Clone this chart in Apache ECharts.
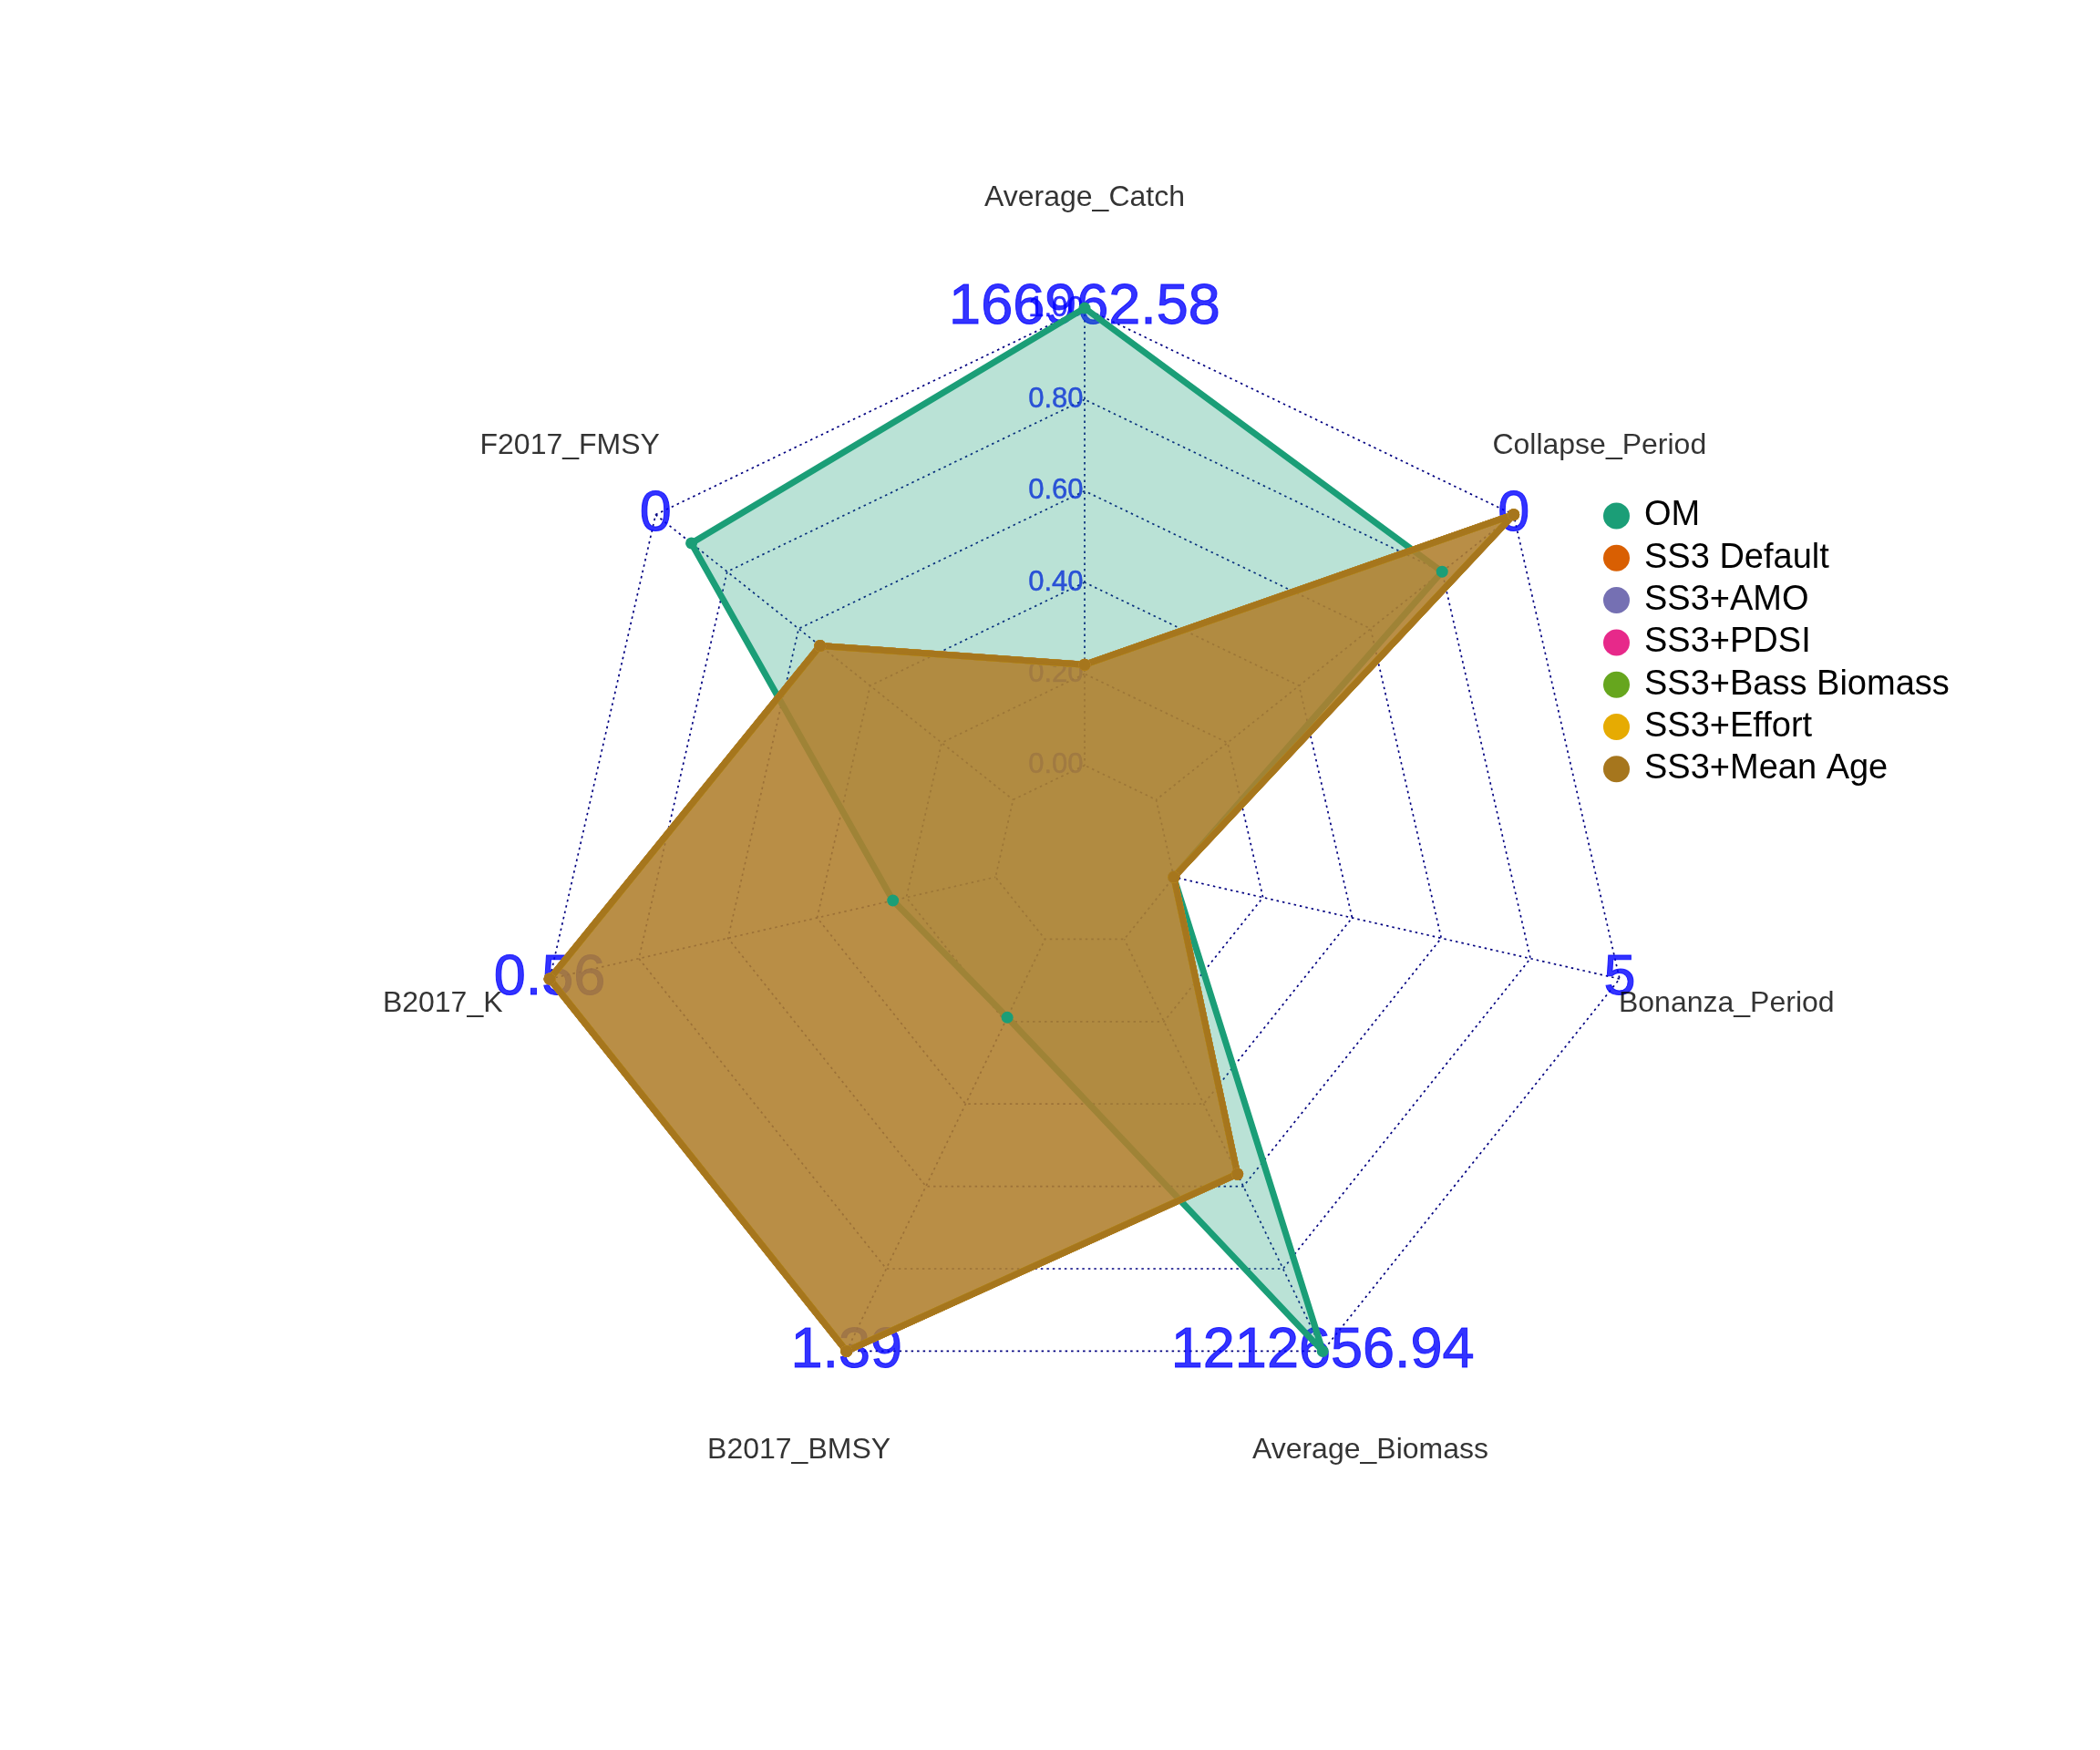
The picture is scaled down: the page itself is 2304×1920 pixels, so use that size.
<!DOCTYPE html>
<html>
<head>
<meta charset="utf-8">
<script src="https://cdn.jsdelivr.net/npm/echarts@6/dist/echarts.min.js"></script>
<style>html,body{margin:0;padding:0;background:#fff}#c{width:2304px;height:1920px}</style>
</head>
<body>
<div id="c"></div>
<script>
// Axes in plotting order (first at top, then counter-clockwise)
const axisNames = ['Average_Catch', 'F2017_FMSY', 'B2017_K', 'B2017_BMSY', 'Average_Biomass', 'Bonanza_Period', 'Collapse_Period'];
// Maximum value labels shown at each axis end
const axisMaxLabels = ['166962.58', '0', '0.56', '1.39', '1212656.94', '5', '0'];
// Scaled tick labels
const tickValues = [0.00, 0.20, 0.40, 0.60, 0.80, 1.00];

const seriesNames = ['OM', 'SS3 Default', 'SS3+AMO', 'SS3+PDSI', 'SS3+Bass Biomass', 'SS3+Effort', 'SS3+Mean Age'];
const seriesColors = ['#1B9E77', '#D95F02', '#7570B3', '#E7298A', '#66A61E', '#E6AB02', '#A6761D'];

// Scaled values (0..1) per axis, in axisNames order
const omValues       = [1.00, 0.90, 0.23, 0.19, 1.00, 0.00, 0.80];
const ss3Default     = [0.22, 0.54, 1.00, 1.00, 0.57, 0.00, 1.00];
const ss3Amo         = [0.22, 0.54, 1.00, 1.00, 0.57, 0.00, 1.00];
const ss3Pdsi        = [0.22, 0.54, 1.00, 1.00, 0.57, 0.00, 1.00];
const ss3BassBiomass = [0.22, 0.54, 1.00, 1.00, 0.57, 0.00, 1.00];
const ss3Effort      = [0.22, 0.54, 1.00, 1.00, 0.57, 0.00, 1.00];
const ss3MeanAge     = [0.22, 0.54, 1.00, 1.00, 0.57, 0.00, 1.00];
const allValues = [omValues, ss3Default, ss3Amo, ss3Pdsi, ss3BassBiomass, ss3Effort, ss3MeanAge];

const AXMIN = -0.2, AXMAX = 1.0;   // radar: centre is one segment below 0
const NAME_R = 1.24;               // axis-name radius in axis units (1.2 x outer ring)
const CENTER = [1190, 940];
const RADIUS = 602;
const INNER = RADIUS / 6;          // radius of the 0.00 ring
const FONT = "'Liberation Sans', Arial, sans-serif";
const gridLine = {color: '#000080', type: [2.5, 4], width: 1.7};

const chart = echarts.init(document.getElementById('c'), null, {renderer: 'canvas'});

const radarSeries = seriesNames.map((n, k) => ({
  type: 'radar',
  name: n,
  z: 3,
  silent: true,
  symbol: 'circle',
  symbolSize: 13,
  itemStyle: {color: seriesColors[k]},
  lineStyle: {color: seriesColors[k], width: 7},
  areaStyle: {color: seriesColors[k], opacity: 0.3},
  data: [{name: n, value: allValues[k]}]
}));

const hiddenItem = {color: 'rgba(0,0,0,0)'};
function textLabel(pos, color, size, dist, border) {
  return {show: true, position: pos, distance: dist || 0, formatter: '{b}', color: color,
          fontSize: size, fontFamily: FONT, textBorderColor: color, textBorderWidth: border || 0};
}

const option = {
  animation: false,
  backgroundColor: '#ffffff',
  color: seriesColors,
  legend: {
    orient: 'vertical',
    left: 1754,
    top: 542,
    itemWidth: 29,
    itemHeight: 29,
    itemGap: 8.3,
    icon: 'circle',
    selectedMode: false,
    data: seriesNames,
    textStyle: {fontSize: 38, color: '#000', fontFamily: FONT, padding: [0, 0, 0, 11]}
  },
  radar: {
    center: CENTER,
    radius: RADIUS,
    startAngle: 90,
    splitNumber: 6,
    shape: 'polygon',
    z: 0,
    indicator: axisNames.map(n => ({name: n, min: AXMIN, max: AXMAX})),
    axisName: {show: false},
    axisLine: {show: false},
    splitLine: {show: true, lineStyle: gridLine},
    splitArea: {show: false},
    axisTick: {show: false},
    axisLabel: {show: false}
  },
  // polar system shares centre; radius runs from the 0.00 ring to the 1.00 ring
  polar: {center: CENTER, radius: [INNER, RADIUS]},
  angleAxis: {
    type: 'value', min: 0, max: axisNames.length, interval: 1, startAngle: 90, clockwise: false,
    z: 0,
    axisLine: {show: false}, axisTick: {show: false}, axisLabel: {show: false},
    splitLine: {show: true, lineStyle: gridLine}
  },
  radiusAxis: {
    type: 'value', min: 0, max: AXMAX,
    show: false, axisLine: {show: false}, axisTick: {show: false}, axisLabel: {show: false}, splitLine: {show: false}
  },
  series: [
    // scaled tick labels along the first axis
    {
      type: 'scatter', coordinateSystem: 'polar', z: 1, silent: true, clip: false,
      symbolSize: 1, itemStyle: hiddenItem,
      data: tickValues.map(v => ({name: v.toFixed(2), value: [v, 0]})),
      label: textLabel('left', '#0000FF', 31, 1, 0.5)
    },
    // max value labels at the axis ends
    {
      type: 'scatter', coordinateSystem: 'polar', z: 1, silent: true, clip: false,
      symbolSize: 1, itemStyle: hiddenItem,
      data: axisMaxLabels.map((t, i) => ({name: t, value: [AXMAX, i]})),
      label: textLabel('inside', '#0000FF', 63, 0, 1)
    },
    // axis names
    {
      type: 'scatter', coordinateSystem: 'polar', z: 1, silent: true, clip: false,
      symbolSize: 1, itemStyle: hiddenItem,
      data: axisNames.map((t, i) => ({name: t, value: [NAME_R, i]})),
      label: textLabel('inside', '#000000', 32, 0, 0)
    }
  ].concat(radarSeries)
};

chart.setOption(option);
</script>
</body>
</html>
